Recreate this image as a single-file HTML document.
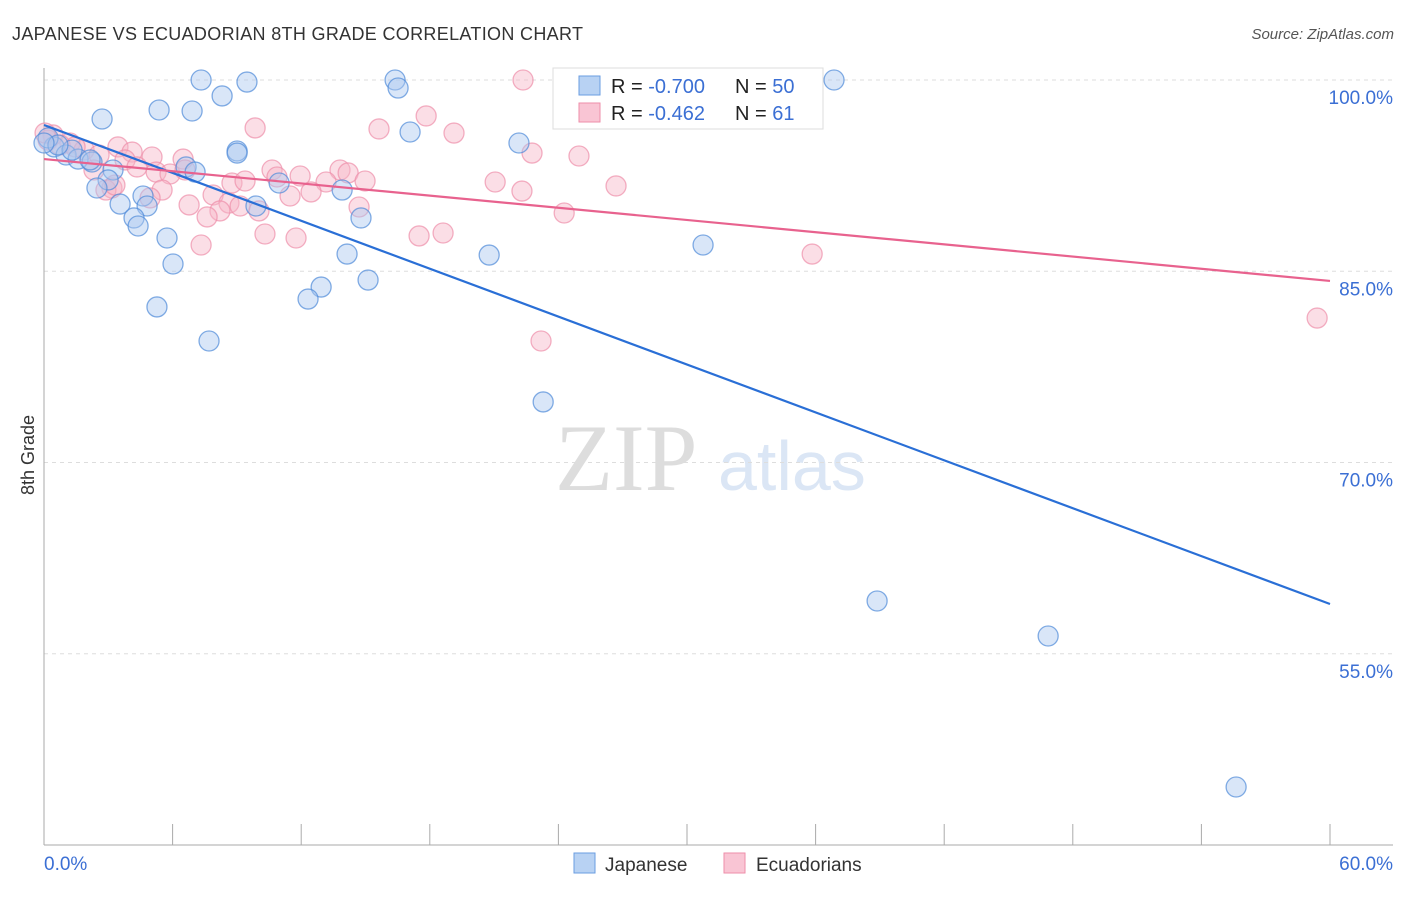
<!DOCTYPE html>
<html><head><meta charset="utf-8"><style>
body{margin:0;background:#fff;font-family:"Liberation Sans",sans-serif;}
</style></head><body>
<svg id="c" width="1406" height="892" xmlns="http://www.w3.org/2000/svg" font-family="Liberation Sans, sans-serif">
<text x="12" y="40" font-size="18" fill="#333" textLength="571">JAPANESE VS ECUADORIAN 8TH GRADE CORRELATION CHART</text>
<text x="1394" y="39" font-size="15" fill="#555" font-style="italic" text-anchor="end">Source: ZipAtlas.com</text>
<text x="34" y="455" font-size="18" fill="#333" text-anchor="middle" transform="rotate(-90 34 455)">8th Grade</text>
<g>
<text x="555" y="490" font-size="95" fill="#ddd" font-family="Liberation Serif, serif">ZIP</text>
<text x="718" y="490" font-size="70" fill="#dbe6f5">atlas</text>
</g>
<g id="grid"></g>
<g id="axes"></g>
<g id="pts"></g>
<g id="lines"></g>
<g>
<rect x="553" y="68" width="270" height="61" fill="#fff" stroke="#ddd"/>
<rect x="579" y="76" width="21" height="19" fill="#b8d2f3" stroke="#6a9de0"/>
<rect x="579" y="103" width="21" height="19" fill="#f9c5d4" stroke="#ee8eaa"/>
<text x="611" y="93" font-size="20" fill="#222">R = <tspan fill="#3b6fd4">-0.700</tspan></text>
<text x="735" y="93" font-size="20" fill="#222">N = <tspan fill="#3b6fd4">50</tspan></text>
<text x="611" y="120" font-size="20" fill="#222">R = <tspan fill="#3b6fd4"> -0.462</tspan></text>
<text x="735" y="120" font-size="20" fill="#222">N = <tspan fill="#3b6fd4"> 61</tspan></text>
</g>
<g>
<rect x="574" y="853" width="21" height="20" fill="#b8d2f3" stroke="#6a9de0"/>
<text x="605" y="871" font-size="19" fill="#333">Japanese</text>
<rect x="724" y="853" width="21" height="20" fill="#f9c5d4" stroke="#ee8eaa"/>
<text x="756" y="871" font-size="19" fill="#333">Ecuadorians</text>
</g>
</svg>
<script>
const yTicks=[100,85,70,55];
const yTickLabels=["100.0%","85.0%","70.0%","55.0%"];
const xTickLabels=["0.0%","60.0%"];
const japX=[7.33,9.47,16.38,16.52,36.86,8.31,5.37,6.91,2.71,17.08,22.16,9.01,9.01,0.47,1.03,1.59,1.31,2.24,3.22,6.63,7.05,2.99,10.97,13.91,2.47,4.62,3.55,4.81,9.89,4.2,4.39,14.79,5.74,30.75,14.14,20.77,6.02,12.93,12.32,15.12,5.27,7.7,23.29,38.87,46.85,55.62,0.19,0.65,2.15,0];
const japY=[100,99.84,100,99.37,100,98.75,97.65,97.57,96.94,95.92,95.06,94.43,94.27,94.75,94.12,93.8,94.5,93.57,92.94,93.18,92.78,92.16,91.92,91.37,91.53,90.9,90.27,90.12,90.12,89.18,88.55,89.18,87.61,87.06,86.35,86.27,85.57,83.76,82.82,84.31,82.2,79.53,74.75,59.14,56.39,44.55,95.45,94.9,93.73,95.06];
const ecuX=[22.35,17.83,9.85,15.63,19.13,3.45,4.11,5.04,6.49,3.78,4.34,5.23,5.88,0.42,0.19,1.21,1.87,2.57,0.75,2.33,22.77,24.96,10.64,10.87,11.95,13.81,14.19,14.98,13.16,8.77,9.38,21.05,26.69,22.3,3.17,2.89,5.51,7.89,12.46,11.48,6.77,8.63,9.15,10.03,8.21,7.61,14.7,24.27,10.31,11.76,7.33,17.5,18.62,35.84,23.19,59.4,0.05,1.45,3.31,6.58,4.95];
const ecuY=[100,97.18,96.24,96.16,95.84,94.75,94.35,93.96,93.8,93.73,93.18,92.78,92.63,95.69,95.29,95.06,94.51,94.12,94.9,92.94,94.27,94.04,92.94,92.39,92.47,92.94,92.71,92.08,92.0,91.92,92.08,92.0,91.69,91.29,91.53,91.37,91.37,90.98,91.22,90.9,90.2,90.35,90.12,89.73,89.73,89.26,90.04,89.57,87.92,87.61,87.06,87.77,88.0,86.35,79.53,81.33,95.84,94.75,91.76,92.94,90.75];
const japTrend=[96.47,58.9];
const ecuTrend=[93.8,84.24];
const NS="http://www.w3.org/2000/svg";
const sx=v=>44+v/60*1286;
const sy=v=>80+(100-v)*12.75;
function mk(tag,attrs,parent){const e=document.createElementNS(NS,tag);for(const k in attrs)e.setAttribute(k,attrs[k]);document.getElementById(parent).appendChild(e);return e;}
yTicks.forEach((t,i)=>{
 const l=mk('line',{x1:44,x2:1393,y1:sy(t),y2:sy(t),stroke:'#ddd','stroke-dasharray':'4,4'},'grid');
 
 
 const tx=mk('text',{x:1393,y:sy(t)+24,'font-size':19,fill:'#3b6fd4','text-anchor':'end'},'grid');
 tx.textContent=yTickLabels[i];
 
 
});
let a=mk('line',{x1:44,x2:44,y1:68,y2:845,stroke:'#aaa'},'axes');


a=mk('line',{x1:44,x2:1393,y1:845,y2:845,stroke:'#aaa'},'axes');


for(let k=1;k<=10;k++){const t=mk('line',{x1:sx(k*6),x2:sx(k*6),y1:824,y2:845,stroke:'#aaa'},'axes');
 
 }
[[0,'start',44],[60,'end',1393]].forEach((d,i)=>{const t=mk('text',{x:d[2],y:870,'font-size':19,fill:'#3b6fd4','text-anchor':d[1]},'axes');t.textContent=xTickLabels[i];
 
 });
function pts(X,Y,fill,stroke,name){X.forEach((x,i)=>{const c=mk('circle',{cx:sx(x),cy:sy(Y[i]),r:10,fill:fill,'fill-opacity':0.45,stroke:stroke,'stroke-opacity':0.7,'stroke-width':1.3},'pts');
 
 });}
pts(ecuX,ecuY,'#f7b6c8','#ee8eaa','ecuadorian-point');
pts(japX,japY,'#aac8f0','#4f8ad8','japanese-point');
let ln=mk('line',{x1:sx(0),y1:sy(japTrend[0]),x2:sx(60),y2:sy(japTrend[1]),stroke:'#2a6fd6','stroke-width':2.2},'lines');


ln=mk('line',{x1:sx(0),y1:sy(ecuTrend[0]),x2:sx(60),y2:sy(ecuTrend[1]),stroke:'#e8628e','stroke-width':2.2},'lines');


</script>
</body></html>
